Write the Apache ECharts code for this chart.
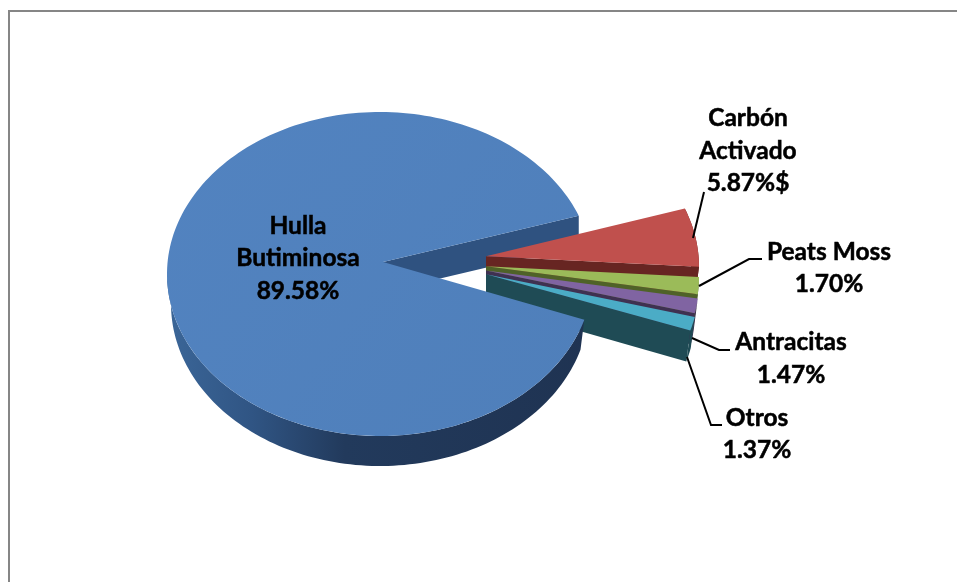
<!DOCTYPE html>
<html>
<head>
<meta charset="utf-8">
<style>
  html, body { margin: 0; padding: 0; background: #fff; }
  #main { width: 957px; height: 582px; }
</style>
<script src="https://cdn.jsdelivr.net/npm/echarts@6/dist/echarts.min.js"></script>
</head>
<body>
<div id="main"></div>
<script>
// datos
var categories = ['Hulla\nButiminosa', 'Carbón\nActivado', 'Peats Moss', 'Antracitas', 'Otros'];
var values = [89.58, 5.87, 1.70, 1.47, 1.37];
var valueSuffix = ['%', '%$', '%', '%', '%'];

// colores
var topColors = ['#4f81bd', '#c0504d', '#9bbb59', '#8064a2', '#4bacc6'];
var wallColors = ['#2f5280', '#672522', '#4f6228', '#3f3151', '#1f4b55'];

// geometria de la elipse (cara superior)
var cx = 380, cy = 274, rx = 213, ry = 162, depth = 30;
var apex = [383, 262];
var firstAngle = -16.4;

// posicion de cada etiqueta y de su linea guia
var labelPos = [[298, 258.5], [748, 151], [829, 268], [791, 358.5], [757, 434]];
var leaders = [
  null,
  [[704, 192], [693, 238]],
  [[762, 259], [749, 259], [699, 286]],
  [[730, 350], [719, 350], [692, 338]],
  [[722, 425], [711, 425], [687, 357]]
];

var total = values.reduce(function (a, b) { return a + b; }, 0);

function rad(d) { return d * Math.PI / 180; }

function arc(a0, a1, ox, oy, rxx, ryy) {
  var pts = [];
  var n = Math.max(2, Math.ceil(Math.abs(a1 - a0) / 1.5));
  for (var i = 0; i <= n; i++) {
    var a = rad(a0 + (a1 - a0) * i / n);
    pts.push([cx + ox + rxx * Math.cos(a), cy + oy - ryy * Math.sin(a)]);
  }
  return pts;
}

function poly(points, fill, z2) {
  return { type: 'polygon', z2: z2, shape: { points: points }, style: { fill: fill } };
}

function renderItem(params, api) {
  var idx = params.dataIndex;
  var children = [];
  var start = firstAngle;
  for (var i = 0; i < idx; i++) start -= api.value(1, i) / total * 360;
  var end = start - api.value(1) / total * 360;
  var base = idx * 4;

  if (idx === 0) {
    // porcion grande: cara cortada, pared exterior y cara superior
    var p1 = arc(end, end, 0, 0, rx, ry)[0];
    children.push(poly([apex, p1, [p1[0], p1[1] + depth], [apex[0], apex[1] + depth]], wallColors[0], 1));
    var wallTop = arc(start, -180, 0, 0, rx, ry);
    var wallBottom = arc(start, -180, 0, depth, rx - 4, ry).reverse();
    children.push(poly(wallTop.concat(wallBottom), new echarts.graphic.LinearGradient(167, 0, 590, 0, [
      { offset: 0, color: '#3b6698' },
      { offset: 0.2, color: '#305584' },
      { offset: 0.42, color: '#223a5c' },
      { offset: 1, color: '#1f3352' }
    ], true), 60));
    children.push(poly([apex].concat(arc(start, end, 0, 0, rx, ry)), new echarts.graphic.LinearGradient(167, 112, 590, 436, [
      { offset: 0, color: '#5283c0' },
      { offset: 1, color: '#4f7fba' }
    ], true), 61));
  } else {
    // porciones separadas: se pinta de atras hacia adelante
    var mid = (start + end) / 2;
    var ox = 106;
    var oy = 0.5 - 43 * Math.sin(rad(mid));
    var vertex = [apex[0] + ox - 3, apex[1] + oy + 1.5];
    var topArc = arc(start, end, ox, oy, rx, ry);
    var lowEnd = topArc[topArc.length - 1];
    children.push(poly([vertex, lowEnd, [lowEnd[0] - 4, lowEnd[1] + depth + 1], [vertex[0], vertex[1] + depth]], wallColors[idx], 10 + base));
    var wallB = arc(start, end, ox - 4, oy + depth + 1, rx, ry).reverse();
    children.push(poly(topArc.concat(wallB), wallColors[idx], 11 + base));
    children.push(poly([vertex].concat(topArc), topColors[idx], 12 + base));
  }

  if (leaders[idx]) {
    children.push({
      type: 'polyline', z2: 70,
      shape: { points: leaders[idx] },
      style: { stroke: '#000', lineWidth: 2, fill: null }
    });
  }

  children.push({
    type: 'text', z2: 71,
    x: labelPos[idx][0], y: labelPos[idx][1],
    style: {
      text: api.value(0) + '\n' + values[idx].toFixed(2) + valueSuffix[idx],
      font: 'bold 24.5px Lato',
      lineHeight: 32.5,
      fill: '#000',
      stroke: '#000',
      lineWidth: 0.5,
      align: 'center',
      verticalAlign: 'middle'
    }
  });

  return { type: 'group', children: children };
}

var myChart = echarts.init(document.getElementById('main'), null, { renderer: 'canvas' });

var option = {
  animation: false,
  backgroundColor: '#fff',
  graphic: [
    // marco: solo arriba y a la izquierda
    { type: 'polyline', shape: { points: [[9, 582], [9, 11], [957, 11]] }, style: { stroke: '#868686', lineWidth: 2, fill: null } }
  ],
  series: [{
    type: 'custom',
    coordinateSystem: 'none',
    renderItem: renderItem,
    encode: { tooltip: 1 },
    data: categories.map(function (c, i) { return [c, values[i]]; })
  }]
};

myChart.setOption(option);
</script>
</body>
</html>
